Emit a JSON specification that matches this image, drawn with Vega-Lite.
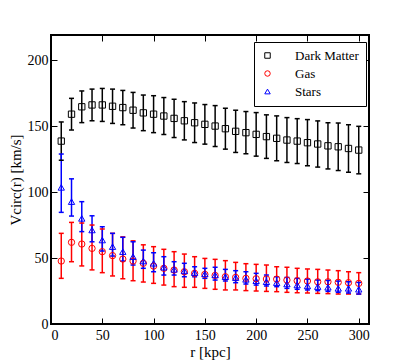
{
  "$schema": "https://vega.github.io/schema/vega-lite/v6.json",
  "width": 318,
  "height": 289,
  "autosize": "none",
  "padding": {"left": 51, "top": 35, "right": 42, "bottom": 36},
  "background": "white",
  "config": {
    "view": {"stroke": "black", "strokeWidth": 2},
    "font": "Liberation Serif",
    "axis": {
      "grid": false, "domain": false, "tickColor": "black", "tickSize": -6, "tickWidth": 1,
      "labelFont": "Liberation Serif", "labelFontSize": 14, "labelColor": "black",
      "titleFont": "Liberation Serif", "titleFontSize": 15, "titleColor": "black", "titleFontWeight": "normal"
    },
    "legend": {"orient": "none", "legendX": 203, "legendY": 7, "title": null, "strokeColor": "black", "fillColor": "white", "padding": 7, "cornerRadius": 0, "labelFont": "Liberation Serif", "labelFontSize": 13, "labelColor": "black", "symbolStrokeWidth": 1, "symbolSize": 30, "labelOffset": 21, "rowPadding": 4}
  },
  "data": {"values": [
    {"r":10,"comp":"Dark Matter","v":138.6,"lo":124.1,"hi":153.1},
    {"r":20,"comp":"Dark Matter","v":159,"lo":147,"hi":171},
    {"r":30,"comp":"Dark Matter","v":164.6,"lo":152.6,"hi":176.6},
    {"r":40,"comp":"Dark Matter","v":166,"lo":154,"hi":178},
    {"r":50,"comp":"Dark Matter","v":166,"lo":153.5,"hi":178.5},
    {"r":60,"comp":"Dark Matter","v":165,"lo":152,"hi":178},
    {"r":70,"comp":"Dark Matter","v":164,"lo":151,"hi":177},
    {"r":80,"comp":"Dark Matter","v":162,"lo":148.5,"hi":175.5},
    {"r":90,"comp":"Dark Matter","v":160,"lo":146.5,"hi":173.5},
    {"r":100,"comp":"Dark Matter","v":159,"lo":145,"hi":173},
    {"r":110,"comp":"Dark Matter","v":157.6,"lo":143.6,"hi":171.6},
    {"r":120,"comp":"Dark Matter","v":155.8,"lo":141.3,"hi":170.3},
    {"r":130,"comp":"Dark Matter","v":154,"lo":139.5,"hi":168.5},
    {"r":140,"comp":"Dark Matter","v":152.5,"lo":137.5,"hi":167.5},
    {"r":150,"comp":"Dark Matter","v":151.3,"lo":136.3,"hi":166.3},
    {"r":160,"comp":"Dark Matter","v":150,"lo":134.5,"hi":165.5},
    {"r":170,"comp":"Dark Matter","v":148,"lo":132.5,"hi":163.5},
    {"r":180,"comp":"Dark Matter","v":146,"lo":130,"hi":162},
    {"r":190,"comp":"Dark Matter","v":145,"lo":129,"hi":161},
    {"r":200,"comp":"Dark Matter","v":143.7,"lo":127.2,"hi":160.2},
    {"r":210,"comp":"Dark Matter","v":142,"lo":125.5,"hi":158.5},
    {"r":220,"comp":"Dark Matter","v":140.7,"lo":123.7,"hi":157.7},
    {"r":230,"comp":"Dark Matter","v":139.4,"lo":122.4,"hi":156.4},
    {"r":240,"comp":"Dark Matter","v":138.6,"lo":121.6,"hi":155.6},
    {"r":250,"comp":"Dark Matter","v":137.4,"lo":119.9,"hi":154.9},
    {"r":260,"comp":"Dark Matter","v":136.4,"lo":118.9,"hi":153.9},
    {"r":270,"comp":"Dark Matter","v":135,"lo":117.5,"hi":152.5},
    {"r":280,"comp":"Dark Matter","v":134.3,"lo":116.3,"hi":152.3},
    {"r":290,"comp":"Dark Matter","v":133,"lo":115,"hi":151},
    {"r":300,"comp":"Dark Matter","v":131.8,"lo":113.8,"hi":149.8},
    {"r":10,"comp":"Gas","v":47.7,"lo":34.6,"hi":68.7},
    {"r":20,"comp":"Gas","v":61.9,"lo":47.2,"hi":77},
    {"r":30,"comp":"Gas","v":60.6,"lo":44,"hi":76.5},
    {"r":40,"comp":"Gas","v":57.3,"lo":41,"hi":75},
    {"r":50,"comp":"Gas","v":54.8,"lo":38.9,"hi":72},
    {"r":60,"comp":"Gas","v":51.8,"lo":36.4,"hi":68.7},
    {"r":70,"comp":"Gas","v":49.2,"lo":34.3,"hi":66},
    {"r":80,"comp":"Gas","v":47.7,"lo":32.8,"hi":63},
    {"r":90,"comp":"Gas","v":46,"lo":31.8,"hi":60},
    {"r":100,"comp":"Gas","v":43.9,"lo":30.8,"hi":58.6},
    {"r":110,"comp":"Gas","v":42.2,"lo":29.5,"hi":56.6},
    {"r":120,"comp":"Gas","v":40.9,"lo":28.3,"hi":54.8},
    {"r":130,"comp":"Gas","v":39.6,"lo":27.8,"hi":53},
    {"r":140,"comp":"Gas","v":38.4,"lo":27.8,"hi":51},
    {"r":150,"comp":"Gas","v":37.6,"lo":27,"hi":49.7},
    {"r":160,"comp":"Gas","v":36.8,"lo":26.3,"hi":49},
    {"r":170,"comp":"Gas","v":35.8,"lo":25.8,"hi":48},
    {"r":180,"comp":"Gas","v":35.3,"lo":25.8,"hi":46.7},
    {"r":190,"comp":"Gas","v":34.6,"lo":25.3,"hi":45.7},
    {"r":200,"comp":"Gas","v":34.3,"lo":25,"hi":45.2},
    {"r":210,"comp":"Gas","v":34.1,"lo":24.7,"hi":44.7},
    {"r":220,"comp":"Gas","v":34,"lo":24.5,"hi":43.4},
    {"r":230,"comp":"Gas","v":33.3,"lo":24,"hi":43},
    {"r":240,"comp":"Gas","v":32.8,"lo":23.7,"hi":42.2},
    {"r":250,"comp":"Gas","v":32.6,"lo":23.5,"hi":41.7},
    {"r":260,"comp":"Gas","v":32,"lo":23.2,"hi":41.4},
    {"r":270,"comp":"Gas","v":32,"lo":23,"hi":40.9},
    {"r":280,"comp":"Gas","v":31.6,"lo":22.7,"hi":40.4},
    {"r":290,"comp":"Gas","v":31.3,"lo":22.7,"hi":39.6},
    {"r":300,"comp":"Gas","v":30.8,"lo":22.7,"hi":38.9},
    {"r":10,"comp":"Stars","v":103.5,"lo":84.6,"hi":128.8},
    {"r":20,"comp":"Stars","v":92.7,"lo":81.8,"hi":110},
    {"r":30,"comp":"Stars","v":80,"lo":70,"hi":92.7},
    {"r":40,"comp":"Stars","v":71.2,"lo":62.3,"hi":82},
    {"r":50,"comp":"Stars","v":63.6,"lo":55.3,"hi":73.7},
    {"r":60,"comp":"Stars","v":58.6,"lo":51.5,"hi":68.7},
    {"r":70,"comp":"Stars","v":54.8,"lo":47.7,"hi":65.7},
    {"r":80,"comp":"Stars","v":51,"lo":44.7,"hi":62.3},
    {"r":90,"comp":"Stars","v":47.7,"lo":42.2,"hi":56},
    {"r":100,"comp":"Stars","v":46,"lo":39.6,"hi":54},
    {"r":110,"comp":"Stars","v":43,"lo":37.1,"hi":51},
    {"r":120,"comp":"Stars","v":41.4,"lo":37.1,"hi":47.2},
    {"r":130,"comp":"Stars","v":40.2,"lo":35.8,"hi":46},
    {"r":140,"comp":"Stars","v":38.9,"lo":35.8,"hi":43.4},
    {"r":150,"comp":"Stars","v":37.9,"lo":34.6,"hi":42.2},
    {"r":160,"comp":"Stars","v":37.1,"lo":33.3,"hi":43},
    {"r":170,"comp":"Stars","v":35.8,"lo":32.6,"hi":41.4},
    {"r":180,"comp":"Stars","v":35.1,"lo":31.3,"hi":40.4},
    {"r":190,"comp":"Stars","v":33.8,"lo":30.3,"hi":39.6},
    {"r":200,"comp":"Stars","v":32.8,"lo":29.5,"hi":38.4},
    {"r":210,"comp":"Stars","v":32,"lo":28.8,"hi":37.1},
    {"r":220,"comp":"Stars","v":31.3,"lo":28.3,"hi":35.8},
    {"r":230,"comp":"Stars","v":30.3,"lo":27,"hi":35.3},
    {"r":240,"comp":"Stars","v":29.5,"lo":26.3,"hi":34.6},
    {"r":250,"comp":"Stars","v":28.8,"lo":25.8,"hi":34},
    {"r":260,"comp":"Stars","v":28.3,"lo":25.3,"hi":33.3},
    {"r":270,"comp":"Stars","v":27.8,"lo":24.7,"hi":33},
    {"r":280,"comp":"Stars","v":27,"lo":24,"hi":32.5},
    {"r":290,"comp":"Stars","v":27,"lo":23.5,"hi":32},
    {"r":300,"comp":"Stars","v":26.3,"lo":22.7,"hi":31.5}
  ]},
  "resolve": {"axis": {"x": "independent", "y": "independent"}},
  "layer": [
    {
      "mark": {"type": "rule", "strokeWidth": 1.5},
      "encoding": {
        "x": {"field": "r", "type": "quantitative", "scale": {"domain": [0, 310], "nice": false},
              "axis": {"orient": "bottom", "values": [0,50,100,150,200,250,300], "title": "r  [kpc]", "labelPadding": 10, "titlePadding": 2}},
        "y": {"field": "lo", "type": "quantitative", "scale": {"domain": [0, 219], "nice": false, "zero": false},
              "axis": {"orient": "left", "values": [0,50,100,150,200], "title": "Vcirc(r)  [km/s]", "labelPadding": 9, "titlePadding": 4}},
        "y2": {"field": "hi"},
        "color": {"field": "comp", "type": "nominal", "scale": {"domain": ["Dark Matter","Gas","Stars"], "range": ["black","red","blue"]}}
      }
    },
    {
      "mark": {"type": "rule", "strokeWidth": 1.5, "xOffset": -2.5, "x2Offset": 2.5},
      "encoding": {
        "x": {"field": "r", "type": "quantitative", "axis": {"orient": "top", "values": [0,50,100,150,200,250,300], "labels": false, "title": null}},
        "x2": {"field": "r"},
        "y": {"field": "lo", "type": "quantitative", "axis": {"orient": "right", "values": [0,50,100,150,200], "labels": false, "title": null}},
        "color": {"field": "comp", "type": "nominal"}
      }
    },
    {
      "mark": {"type": "rule", "strokeWidth": 1.5, "xOffset": -2.5, "x2Offset": 2.5},
      "encoding": {
        "x": {"field": "r", "type": "quantitative", "axis": null},
        "x2": {"field": "r"},
        "y": {"field": "hi", "type": "quantitative", "axis": null},
        "color": {"field": "comp", "type": "nominal"}
      }
    },
    {
      "mark": {"type": "point", "filled": false, "size": 40, "strokeWidth": 1, "opacity": 1},
      "encoding": {
        "x": {"field": "r", "type": "quantitative", "axis": null},
        "y": {"field": "v", "type": "quantitative", "axis": null},
        "color": {"field": "comp", "type": "nominal"},
        "shape": {"field": "comp", "type": "nominal", "scale": {"domain": ["Dark Matter","Gas","Stars"], "range": ["square","circle","triangle-up"]}}
      }
    }
  ]
}
